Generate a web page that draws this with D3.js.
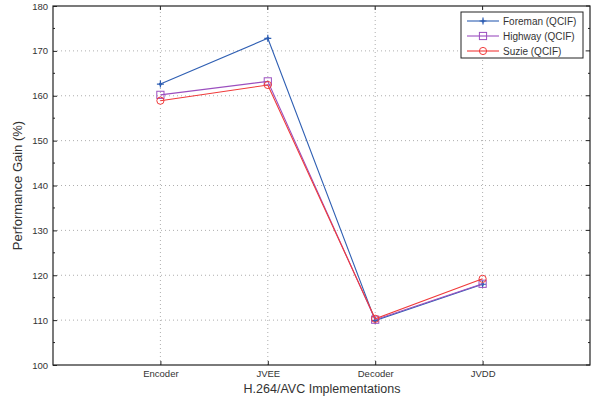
<!DOCTYPE html>
<html>
<head>
<meta charset="utf-8">
<script src="https://cdn.jsdelivr.net/npm/d3@7"></script>
<style>
  body { margin: 0; background: #fff; }
  text { font-family: "Liberation Sans", Arial, sans-serif; fill: #333; }
</style>
</head>
<body>
<svg id="chart"></svg>
<script>
const categories = ['Encoder', 'JVEE', 'Decoder', 'JVDD'];
const foreman = [162.6, 172.8, 109.9, 118.0];
const highway = [160.2, 163.2, 110.1, 118.1];
const suzie = [158.9, 162.4, 110.3, 119.2];
const yTicks = [100, 110, 120, 130, 140, 150, 160, 170, 180];

const width = 595, height = 400;
const margin = { top: 6, right: 5, bottom: 35, left: 53 };

const svg = d3.select('#chart').attr('width', width).attr('height', height);

const x = d3.scaleLinear().domain([0, 5]).range([margin.left, width - margin.right]);
const y = d3.scaleLinear().domain([100, 180]).range([height - margin.bottom, margin.top]);

const series = [
  { name: 'Foreman (QCIF)', values: foreman, color: '#2f5fb3', marker: 'star' },
  { name: 'Highway (QCIF)', values: highway, color: '#9b4fbf', marker: 'square' },
  { name: 'Suzie (QCIF)', values: suzie, color: '#f03a3a', marker: 'circle' }
];

const x0 = margin.left, x1 = width - margin.right;
const y0 = height - margin.bottom, y1 = margin.top;

// grid
const grid = svg.append('g').attr('stroke', '#999').attr('stroke-width', 0.8)
  .attr('stroke-dasharray', '1,3');
grid.selectAll('.gy').data(yTicks.slice(1, -1)).enter().append('line')
  .attr('x1', x0).attr('x2', x1).attr('y1', d => y(d)).attr('y2', d => y(d));
grid.selectAll('.gx').data(d3.range(1, 5)).enter().append('line')
  .attr('y1', y0).attr('y2', y1).attr('x1', d => x(d)).attr('x2', d => x(d));

// axes
const yAxis = d3.axisLeft(y).tickValues(yTicks).tickSize(-4).tickPadding(5);
const gy = svg.append('g').attr('transform', `translate(${x0},0)`).call(yAxis);
const xAxis = d3.axisBottom(x).tickValues(d3.range(1, 5))
  .tickFormat(d => categories[d - 1]).tickSize(-4).tickPadding(5);
const gx = svg.append('g').attr('transform', `translate(0,${y0})`).call(xAxis);
[gy, gx].forEach(g => {
  g.select('.domain').remove();
  g.selectAll('.tick line').attr('stroke', '#222');
  g.selectAll('text').attr('font-size', 9.5).style('fill', '#333');
});

// right / top major ticks, minor ticks
const minor = d3.range(105, 180, 10);
const tk = svg.append('g').attr('stroke', '#222').attr('stroke-width', 1);
tk.selectAll('.rt').data(yTicks).enter().append('line')
  .attr('x1', x1).attr('x2', x1 - 4).attr('y1', d => y(d)).attr('y2', d => y(d));
tk.selectAll('.ml').data(minor).enter().append('line')
  .attr('x1', x0).attr('x2', x0 + 2).attr('y1', d => y(d)).attr('y2', d => y(d));
tk.selectAll('.mr').data(minor).enter().append('line')
  .attr('x1', x1).attr('x2', x1 - 2).attr('y1', d => y(d)).attr('y2', d => y(d));
tk.selectAll('.tt').data(d3.range(1, 5)).enter().append('line')
  .attr('y1', y1).attr('y2', y1 + 4).attr('x1', d => x(d)).attr('x2', d => x(d));

// frame
svg.append('rect').attr('x', x0).attr('y', y1).attr('width', x1 - x0).attr('height', y0 - y1)
  .attr('fill', 'none').attr('stroke', '#222').attr('stroke-width', 1.2);

const line = d3.line().x((d, i) => x(i + 1)).y(d => y(d));

function drawMarker(g, type, cx, cy, color) {
  if (type === 'circle') {
    g.append('circle').attr('cx', cx).attr('cy', cy).attr('r', 3.6)
      .attr('fill', 'none').attr('stroke', color).attr('stroke-width', 1);
  } else if (type === 'square') {
    g.append('rect').attr('x', cx - 3.6).attr('y', cy - 3.6).attr('width', 7.2).attr('height', 7.2)
      .attr('fill', 'none').attr('stroke', color).attr('stroke-width', 1);
  } else {
    g.append('path').attr('d', `M${cx - 3.5},${cy}H${cx + 3.5}M${cx},${cy - 3.5}V${cy + 3.5}`)
      .attr('stroke', color).attr('stroke-width', 1.2);
    g.append('circle').attr('cx', cx).attr('cy', cy).attr('r', 1.6).attr('fill', color);
  }
}

series.forEach(s => {
  const g = svg.append('g');
  g.append('path').datum(s.values).attr('d', line)
    .attr('fill', 'none').attr('stroke', s.color).attr('stroke-width', 1.1);
  s.values.forEach((v, i) => drawMarker(g, s.marker, x(i + 1), y(v), s.color));
});

// legend
const lg = svg.append('g');
lg.append('rect').attr('x', 461).attr('y', 12).attr('width', 122).attr('height', 46)
  .attr('fill', '#fff').attr('stroke', '#222').attr('stroke-width', 1);
series.forEach((s, i) => {
  const ly = 21 + i * 15;
  lg.append('line').attr('x1', 467).attr('x2', 499).attr('y1', ly).attr('y2', ly)
    .attr('stroke', s.color).attr('stroke-width', 1.1);
  drawMarker(lg, s.marker, 483, ly, s.color);
  lg.append('text').attr('x', 503).attr('y', ly + 3.5).attr('font-size', 10).text(s.name);
});

// axis titles
svg.append('text').attr('x', 322).attr('y', 393).attr('text-anchor', 'middle')
  .attr('font-size', 12.5).text('H.264/AVC Implementations');
svg.append('text').attr('transform', `translate(22,${(y0 + y1) / 2}) rotate(-90)`)
  .attr('text-anchor', 'middle').attr('font-size', 13).text('Performance Gain (%)');
</script>
</body>
</html>
